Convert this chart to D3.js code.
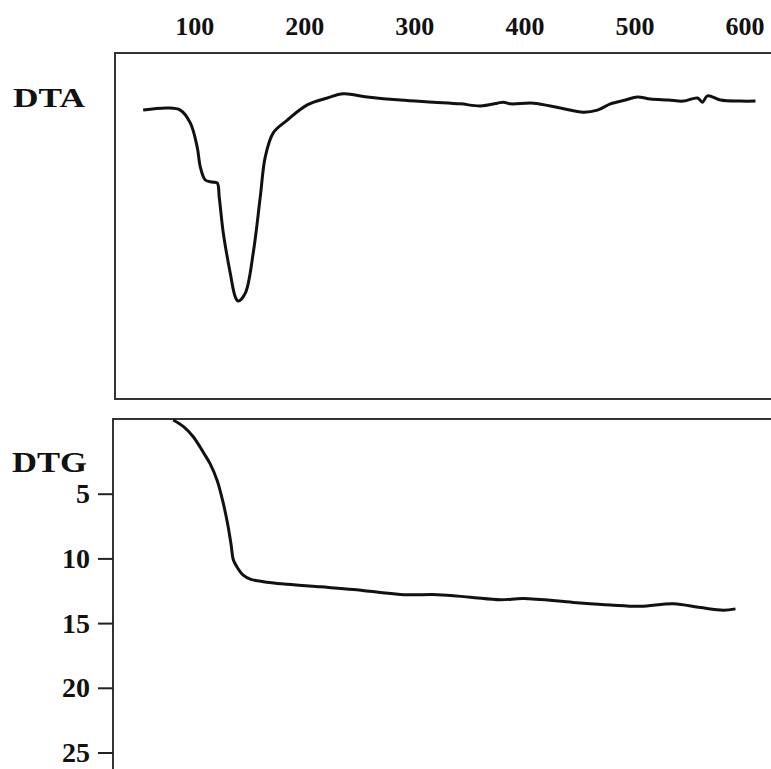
<!DOCTYPE html>
<html>
<head>
<meta charset="utf-8">
<script src="https://cdn.jsdelivr.net/npm/d3@7"></script>
<style>
  html, body { margin: 0; padding: 0; background: #ffffff; }
  svg { display: block; }
  text { font-family: "Liberation Serif", "Times New Roman", serif; font-weight: bold; fill: #111; }
</style>
</head>
<body>
<svg id="chart" width="771" height="769"></svg>
<script>
// Temperature axis tick labels (°C)
const tempTicks = [100, 200, 300, 400, 500, 600];

// DTA curve: temperature (°C) and signal (arbitrary units, 0 = panel bottom, 100 = panel top)
const dtaTemp = [53.6, 75.5, 87.3, 96.4, 102.7, 105.5, 110, 116.4, 120.9, 122.7, 126.4, 132.7, 137.3, 140,
  146.4, 153.6, 160, 164.5, 171.8, 184.5, 202.7, 220.9, 235.5, 257.3, 287.3, 317.3, 341.8, 360, 375.5,
  380.9, 387.3, 408.2, 432.7, 453.6, 466.4, 478.2, 491.8, 502.7, 514.5, 530.9, 544.5, 557.3, 561.8,
  566.4, 578.2, 596.4, 610];
const dtaSignal = [83.5, 84.1, 83.5, 79.8, 72.8, 67.1, 63.3, 62.7, 62.4, 58.4, 48, 36.4, 29.5, 28.3,
  30.6, 42.2, 58.4, 69.9, 76.9, 80.6, 85, 87, 88.2, 87.3, 86.4, 85.8, 85.3, 84.7, 85.5,
  85.8, 85.3, 85.5, 84.1, 82.9, 83.5, 85.3, 86.4, 87.3, 86.7, 86.4, 86.1, 87, 85.8,
  87.6, 86.4, 86.1, 86.1];

// DTG (mass-loss) curve: temperature (°C) and loss value
const dtgTemp = [80.9, 90, 99.1, 108.2, 114.5, 120.9, 126, 130.5, 133.6, 135.5, 139.1, 144.5,
  150.9, 162.7, 184.5, 214.5, 244.5, 290, 320.9, 350.9, 378.2, 399.1, 444.5, 478.2, 505.5, 535.5, 560,
  580.9, 591.8];
const dtgLoss = [-0.7, -0.2, 0.6, 1.8, 2.7, 4.0, 5.6, 7.4, 9, 10.1, 10.7, 11.3,
  11.6, 11.8, 12, 12.2, 12.4, 12.8, 12.8, 13, 13.2, 13.1, 13.4, 13.6, 13.7, 13.5, 13.8,
  14, 13.9];
const dtgTicks = [5, 10, 15, 20, 25];

const svg = d3.select("#chart");

// shared temperature scale
const x = d3.scaleLinear().domain([28, 625]).range([115, 772]);

// ---- top axis labels ----
const topAxis = d3.axisTop(x).tickValues(tempTicks).tickSize(0).tickPadding(0).tickFormat(d3.format("d"));
const gTop = svg.append("g").attr("transform", "translate(0,35)").call(topAxis);
gTop.select(".domain").remove();
gTop.selectAll("text").attr("font-size", 26).attr("fill", "#111")
  .style("font-family", '"Liberation Serif", serif').style("font-weight", "bold");

// ---- DTA panel ----
const dtaTop = 53, dtaBottom = 399;
const yDta = d3.scaleLinear().domain([0, 100]).range([dtaBottom, dtaTop]);
svg.append("rect").attr("x", 115).attr("y", dtaTop).attr("width", 700).attr("height", dtaBottom - dtaTop)
  .attr("fill", "none").attr("stroke", "#333").attr("stroke-width", 2);

const dtaData = dtaTemp.map((t, i) => [t, dtaSignal[i]]);
svg.append("path").datum(dtaData)
  .attr("fill", "none").attr("stroke", "#111").attr("stroke-width", 3).attr("stroke-linejoin", "round")
  .attr("d", d3.line().x(d => x(d[0])).y(d => yDta(d[1])).curve(d3.curveCatmullRom.alpha(0.5)));

svg.append("text").attr("x", 13).attr("y", 107).attr("font-size", 28)
  .attr("textLength", 72).attr("lengthAdjust", "spacingAndGlyphs").text("DTA");

// ---- DTG panel ----
const dtgTop = 419;
const yDtg = d3.scaleLinear().domain([0, 25]).range([429, 752.5]);
svg.append("rect").attr("x", 113).attr("y", dtgTop).attr("width", 700).attr("height", 400)
  .attr("fill", "none").attr("stroke", "#333").attr("stroke-width", 2);

const leftAxis = d3.axisLeft(yDtg).tickValues(dtgTicks).tickSize(15).tickPadding(8).tickFormat(d3.format("d"));
const gLeft = svg.append("g").attr("transform", "translate(113,0)").call(leftAxis);
gLeft.select(".domain").remove();
gLeft.selectAll("line").attr("stroke", "#222").attr("stroke-width", 2);
gLeft.selectAll("text").attr("font-size", 28).attr("fill", "#111")
  .style("font-family", '"Liberation Serif", serif').style("font-weight", "bold");

const dtgData = dtgTemp.map((t, i) => [t, dtgLoss[i]]);
svg.append("path").datum(dtgData)
  .attr("fill", "none").attr("stroke", "#111").attr("stroke-width", 3).attr("stroke-linejoin", "round")
  .attr("d", d3.line().x(d => x(d[0])).y(d => yDtg(d[1])).curve(d3.curveCatmullRom.alpha(0.5)));

svg.append("text").attr("x", 12).attr("y", 472).attr("font-size", 29)
  .attr("textLength", 75).attr("lengthAdjust", "spacingAndGlyphs").text("DTG");
</script>
</body>
</html>
